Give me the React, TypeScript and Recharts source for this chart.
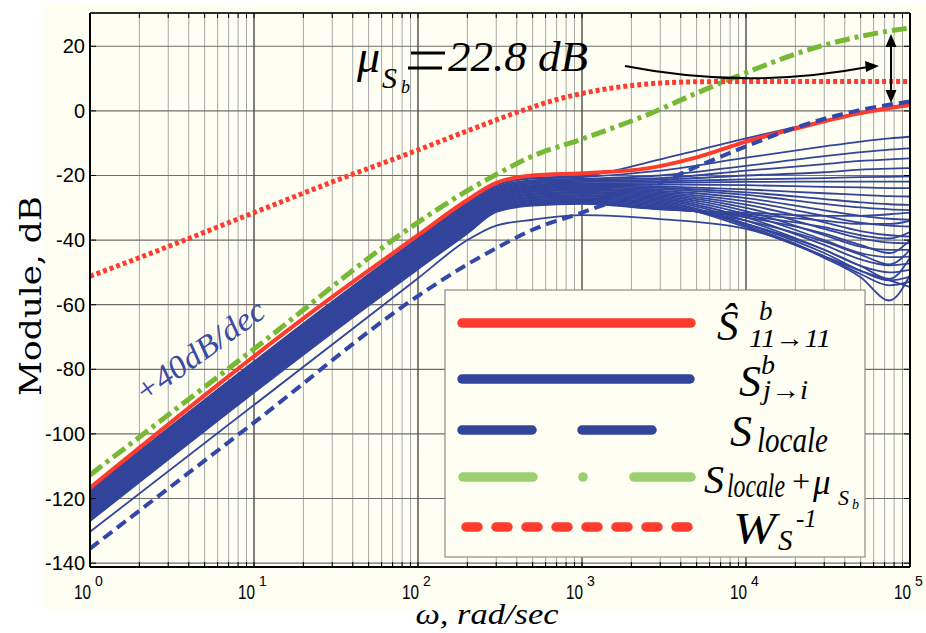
import React from "react";
import { LineChart, Line, XAxis, YAxis, CartesianGrid, ReferenceLine } from "recharts";

// ---- data (dB vs ω rad/sec) ----
const familyOmega = [1, 100, 200, 300, 500, 1000, 3000, 10000, 30000, 50000, 75000, 100000];

// S^b_{j->i} curves, one row per curve, values at familyOmega
const familyDb: number[][] = [
  [-117.4, -39.4, -28.4, -22.7, -20.7, -20.2, -15.0, -8.5, -3.0, -0.5, 1.2, 2.2],
  [-117.7, -39.7, -28.7, -23.0, -21.0, -20.5, -18.5, -14.5, -11.0, -9.5, -8.5, -8.0],
  [-118.0, -40.0, -29.0, -23.5, -21.5, -21.0, -20.0, -17.0, -14.0, -12.8, -12.0, -11.6],
  [-118.4, -40.4, -29.4, -23.8, -21.8, -21.3, -20.8, -18.5, -16.5, -15.5, -15.0, -14.7],
  [-118.8, -40.8, -29.8, -24.2, -22.2, -21.7, -21.3, -20.0, -19.0, -18.2, -17.9, -17.7],
  [-119.2, -41.2, -30.2, -24.5, -22.5, -22.0, -21.8, -21.2, -20.8, -20.5, -20.4, -20.3],
  [-119.5, -41.5, -30.5, -24.9, -22.9, -22.4, -22.3, -22.0, -21.9, -21.9, -21.9, -21.9],
  [-119.9, -41.9, -30.9, -25.2, -23.2, -22.7, -22.8, -23.0, -23.5, -23.7, -23.9, -23.9],
  [-120.2, -42.2, -31.2, -25.5, -23.5, -23.0, -23.4, -24.3, -25.5, -26.0, -26.4, -26.5],
  [-120.6, -42.6, -31.6, -25.8, -23.8, -23.3, -23.8, -25.2, -27.3, -28.3, -28.9, -29.1],
  [-120.9, -42.9, -31.9, -26.1, -24.1, -23.6, -24.3, -26.0, -28.8, -29.9, -30.5, -30.7],
  [-121.3, -43.3, -32.3, -26.5, -24.5, -24.0, -24.8, -27.0, -30.8, -32.5, -33.4, -33.7],
  [-121.6, -43.6, -32.6, -26.8, -24.8, -24.3, -25.2, -28.0, -32.5, -34.6, -35.5, -35.8],
  [-122.0, -44.0, -33.0, -27.1, -25.1, -24.6, -25.6, -29.0, -34.5, -37.2, -38.5, -38.9],
  [-122.3, -44.3, -33.3, -27.5, -25.5, -25.0, -26.0, -30.0, -36.5, -39.5, -40.8, -41.0],
  [-122.7, -44.7, -33.7, -27.8, -25.8, -25.3, -26.4, -31.0, -38.5, -42.0, -43.0, -43.0],
  [-123.0, -45.0, -34.0, -28.1, -26.1, -25.6, -26.8, -32.0, -40.0, -44.0, -45.3, -45.1],
  [-123.4, -45.4, -34.4, -28.5, -26.5, -26.0, -27.2, -33.0, -41.5, -46.0, -47.8, -47.2],
  [-123.7, -45.7, -34.7, -28.8, -26.8, -26.3, -27.6, -34.0, -43.0, -48.0, -50.0, -49.2],
  [-124.1, -46.1, -35.1, -29.1, -27.1, -26.6, -28.0, -35.0, -44.0, -49.5, -52.5, -51.3],
  [-124.4, -46.4, -35.4, -29.5, -27.5, -27.0, -28.4, -35.5, -45.0, -50.5, -54.0, -52.8],
  [-124.8, -46.8, -35.8, -29.8, -27.8, -27.3, -28.8, -36.0, -45.5, -51.5, -58.7, -50.8],
  [-125.1, -47.1, -36.1, -30.1, -28.1, -27.6, -29.2, -35.0, -43.0, -48.0, -52.0, -45.5],
  [-125.5, -47.5, -36.5, -30.4, -28.4, -27.9, -29.6, -34.0, -40.5, -44.5, -47.5, -43.0],
  [-125.8, -47.8, -36.8, -30.7, -28.7, -28.2, -30.0, -33.0, -38.0, -41.5, -44.0, -40.0],
  [-126.2, -48.2, -37.2, -30.9, -28.9, -28.4, -30.2, -32.5, -36.0, -38.5, -39.5, -37.5],
  [-126.6, -48.6, -37.6, -31.1, -29.1, -28.6, -30.4, -32.0, -34.0, -35.0, -35.0, -34.0],
  [-127.0, -49.0, -38.0, -31.3, -29.3, -28.8, -30.5, -31.5, -32.5, -32.5, -32.0, -31.5],
  [-130.3, -51.8, -40.0, -35.5, -33.7, -32.3, -33.5, -36.5, -45.0, -49.5, -52.5, -54.5],
];

// Ŝ^b_{11->11}
const shatOmega = [1, 30, 100, 200, 300, 500, 1000, 2500, 5000, 10000, 20000, 50000, 100000];
const shatDb = [-116.7, -57.6, -38.5, -27.6, -22.3, -20.0, -19.3, -17.8, -14.4, -9.5, -5.5, -0.7, 1.8];

// S_locale and S_locale + μ
const localeOmega = [1, 10, 100, 200, 300, 500, 1000, 2500, 5000, 10000, 20000, 50000, 100000];
const localeDb = [-135.5, -96.5, -57.3, -47.5, -42.5, -36.8, -31.5, -24.0, -17.3, -11.0, -5.2, 0.3, 2.9];
const localeMuDb = [-112.7, -73.7, -34.5, -24.7, -19.7, -14.0, -8.7, -1.2, 5.5, 11.8, 17.6, 23.1, 25.7];

// W_S^-1
const wsOmega = [1, 3, 10, 30, 100, 200, 400, 700, 1300, 2600, 5000, 10000, 100000];
const wsDb = [-51.2, -42.0, -31.5, -22.0, -12.1, -6.2, -0.5, 3.5, 6.5, 8.4, 9.0, 9.1, 9.1];

const decades = [1, 10, 100, 1000, 10000, 100000];
const decadeLabels = ["0", "1", "2", "3", "4", "5"];
const yTicks = [-140, -120, -100, -80, -60, -40, -20, 0, 20];

const xTicks: number[] = [];
decades.forEach((d, i) => {
  if (i === decades.length - 1) xTicks.push(d);
  else for (let m = 1; m <= 9; m++) xTicks.push(d * m);
});

const allOmega = Array.from(new Set([...familyOmega, ...shatOmega, ...localeOmega, ...wsOmega])).sort((a, b) => a - b);
const rows = allOmega.map((w) => {
  const r: Record<string, number | null> = { w };
  const fi = familyOmega.indexOf(w);
  familyDb.forEach((c, i) => {
    r[`f${i}`] = fi >= 0 ? c[fi] : null;
  });
  const si = shatOmega.indexOf(w);
  r.shat = si >= 0 ? shatDb[si] : null;
  const li = localeOmega.indexOf(w);
  r.loc = li >= 0 ? localeDb[li] : null;
  r.locMu = li >= 0 ? localeMuDb[li] : null;
  const wi = wsOmega.indexOf(w);
  r.ws = wi >= 0 ? wsDb[wi] : null;
  return r;
});

const RED = "#ff3b2e";
const BLUE = "#33449b";
const GREEN = "#77b934";
const GREEN_LIGHT = "#9ccf70";
const CREAM = "#fefef3";
const SERIF = "'Liberation Serif', serif";
const SANS = "'Liberation Sans', Arial, sans-serif";

const BottomTick = (props: any) => {
  const { x, y, payload } = props;
  const k = decades.indexOf(payload.value);
  return (
    <g>
      <line x1={x} x2={x} y1={y} y2={y - 5} stroke="#000" strokeWidth={1} />
      {k >= 0 && (
        <text fontFamily={SANS} fill="#000">
          <tspan x={x - 16} y={y + 32} fontSize={21} textLength={17} lengthAdjust="spacingAndGlyphs">10</tspan>
          <tspan x={x + 5} y={y + 19} fontSize={14}>{decadeLabels[k]}</tspan>
        </text>
      )}
    </g>
  );
};

const TopTick = (props: any) => {
  const { x, y } = props;
  return <line x1={x} x2={x} y1={y} y2={y + 5} stroke="#000" strokeWidth={1} />;
};

const LeftTick = (props: any) => {
  const { x, y, payload } = props;
  return (
    <g>
      <line x1={x} x2={x + 6} y1={y} y2={y} stroke="#000" strokeWidth={1} />
      <text x={x - 5} y={y + 7} textAnchor="end" fontFamily={SANS} fontSize={20} fill="#000">
        {payload.value}
      </text>
    </g>
  );
};

const RightTick = (props: any) => {
  const { x, y } = props;
  return <line x1={x} x2={x - 6} y1={y} y2={y} stroke="#000" strokeWidth={1} />;
};

export default function App() {
  return (
    <div style={{ position: "absolute", left: 0, top: 0, width: 926, height: 633, background: "#fff", overflow: "hidden" }}>
      <div style={{ position: "absolute", left: 43, top: 4, width: 883, height: 606, background: CREAM }} />
      <div style={{ position: "absolute", left: 0, top: 0 }}>
        <LineChart width={926} height={633} data={rows} margin={{ top: 12, right: 15, bottom: 26, left: 30 }}>
          <CartesianGrid horizontal={false} stroke="#a6a6a6" strokeWidth={1} />
          <CartesianGrid vertical={false} stroke="#6e6e6e" strokeWidth={1.2} />
          {decades.slice(1, -1).map((d) => (
            <ReferenceLine key={d} x={d} stroke="#474747" strokeWidth={1.2} ifOverflow="hidden" />
          ))}
          <XAxis
            dataKey="w"
            type="number"
            scale="log"
            domain={[1, 100000]}
            ticks={xTicks}
            interval={0}
            allowDataOverflow
            height={40}
            tickSize={0}
            tickMargin={0}
            tickLine={false}
            axisLine={{ stroke: "#000", strokeWidth: 2 }}
            tick={<BottomTick />}
          />
          <XAxis
            xAxisId="top"
            orientation="top"
            dataKey="w"
            type="number"
            scale="log"
            domain={[1, 100000]}
            ticks={xTicks}
            interval={0}
            allowDataOverflow
            height={1}
            tickSize={0}
            tickMargin={0}
            tickLine={false}
            axisLine={{ stroke: "#000", strokeWidth: 1.5 }}
            tick={<TopTick />}
          />
          <YAxis
            type="number"
            domain={[-141.2, 30.3]}
            ticks={yTicks}
            interval={0}
            allowDataOverflow
            width={60}
            tickSize={0}
            tickMargin={0}
            tickLine={false}
            axisLine={{ stroke: "#000", strokeWidth: 2 }}
            tick={<LeftTick />}
          />
          <YAxis
            yAxisId="right"
            orientation="right"
            type="number"
            domain={[-141.2, 30.3]}
            ticks={yTicks}
            interval={0}
            allowDataOverflow
            width={1}
            tickSize={0}
            tickMargin={0}
            tickLine={false}
            axisLine={{ stroke: "#000", strokeWidth: 2 }}
            tick={<RightTick />}
          />
          {familyDb.map((_, i) => (
            <Line
              key={i}
              dataKey={`f${i}`}
              type="monotone"
              stroke={BLUE}
              strokeWidth={1.8}
              dot={false}
              connectNulls
              isAnimationActive={false}
            />
          ))}
          <Line dataKey="shat" type="monotone" stroke={RED} strokeWidth={4} dot={false} connectNulls isAnimationActive={false} />
          <Line dataKey="loc" type="monotone" stroke="#3346aa" strokeWidth={4} strokeDasharray="11 6" dot={false} connectNulls isAnimationActive={false} />
          <Line dataKey="locMu" type="monotone" stroke={GREEN} strokeWidth={5} strokeDasharray="15 5 4 5" dot={false} connectNulls isAnimationActive={false} />
          <Line dataKey="ws" type="monotone" stroke={RED} strokeWidth={5} strokeDasharray="4 3" dot={false} connectNulls isAnimationActive={false} />
        </LineChart>
      </div>
      <svg width={926} height={633} style={{ position: "absolute", left: 0, top: 0, pointerEvents: "none" }}>
        {/* axis titles */}
        <text transform="translate(41,296) rotate(-90)" textAnchor="middle" fontFamily="'DejaVu Serif', serif" fontSize={29} textLength={200} lengthAdjust="spacingAndGlyphs" fill="#000">
          Module, dB
        </text>
        <text x={487} y={624} textAnchor="middle" fontFamily={SERIF} fontStyle="italic" fontSize={29} textLength={143} lengthAdjust="spacingAndGlyphs" fill="#000">
          ω, rad/sec
        </text>

        {/* slope note */}
        <text transform="translate(144,404) rotate(-35.6)" fontFamily={SERIF} fontStyle="italic" fontSize={32} textLength={152} lengthAdjust="spacingAndGlyphs" fill="#3b4aa3">
          +40dB/dec
        </text>

        {/* μ annotation */}
        <text fontFamily={SERIF} fontStyle="italic" fill="#000">
          <tspan x={357} y={72} fontSize={46}>μ</tspan>
          <tspan x={382} y={88} fontSize={30}>S</tspan>
          <tspan x={401} y={93} fontSize={18}>b</tspan>
          <tspan x={448} y={71} fontSize={42} textLength={140} lengthAdjust="spacingAndGlyphs">22.8 dB</tspan>
        </text>
        <line x1={411} x2={445} y1={53} y2={53} stroke="#000" strokeWidth={3} />
        <line x1={408} x2={442} y1={68} y2={68} stroke="#000" strokeWidth={3} />
        <path d="M 625 66 Q 747 90 868 67" fill="none" stroke="#000" strokeWidth={2} />
        <polygon points="879,66 865,61 866,72" fill="#000" />
        <line x1={891} x2={891} y1={42} y2={96} stroke="#000" strokeWidth={2} />
        <polygon points="891,34 885.5,47 896.5,47" fill="#000" />
        <polygon points="891,103 885.5,90 896.5,90" fill="#000" />

        {/* legend */}
        <rect x={445} y={290} width={420} height={267} fill={CREAM} stroke="#8c8c8c" strokeWidth={1.2} />
        <line x1={462} x2={691} y1={323} y2={323} stroke={RED} strokeWidth={9.5} strokeLinecap="round" />
        <line x1={462} x2={690} y1={379} y2={379} stroke={BLUE} strokeWidth={9.5} strokeLinecap="round" />
        <line x1={462} x2={532} y1={430} y2={430} stroke={BLUE} strokeWidth={9.5} strokeLinecap="round" />
        <line x1={582} x2={652} y1={430} y2={430} stroke={BLUE} strokeWidth={9.5} strokeLinecap="round" />
        <line x1={463} x2={533} y1={477} y2={477} stroke={GREEN_LIGHT} strokeWidth={9.5} strokeLinecap="round" />
        <circle cx={583} cy={477} r={4.8} fill={GREEN_LIGHT} />
        <line x1={634} x2={691} y1={477} y2={477} stroke={GREEN_LIGHT} strokeWidth={9.5} strokeLinecap="round" />
        <line x1={466} x2={688} y1={527} y2={527} stroke={RED} strokeWidth={9.5} strokeLinecap="round" strokeDasharray="12 18" />

        <g fontFamily={SERIF} fontStyle="italic" fill="#000">
          <text>
            <tspan x={717} y={340} fontSize={43}>Ŝ</tspan>
            <tspan x={759} y={320} fontSize={27}>b</tspan>
            <tspan x={749} y={347} fontSize={26} textLength={82} lengthAdjust="spacingAndGlyphs">11→11</tspan>
          </text>
          <text>
            <tspan x={739} y={396} fontSize={44}>S</tspan>
            <tspan x={761} y={374} fontSize={28}>b</tspan>
            <tspan x={763} y={399} fontSize={27} textLength={45} lengthAdjust="spacingAndGlyphs">j→i</tspan>
          </text>
          <text>
            <tspan x={730} y={446} fontSize={44}>S</tspan>
            <tspan x={757} y={452} fontSize={35} textLength={71} lengthAdjust="spacingAndGlyphs">locale</tspan>
          </text>
          <text>
            <tspan x={704} y={493} fontSize={40}>S</tspan>
            <tspan x={727} y={497} fontSize={33} textLength={58} lengthAdjust="spacingAndGlyphs">locale</tspan>
            <tspan x={790} y={492} fontSize={32}>+</tspan>
            <tspan x={813} y={494} fontSize={35}>μ</tspan>
            <tspan x={838} y={505} fontSize={22}>S</tspan>
            <tspan x={852} y={509} fontSize={14}>b</tspan>
          </text>
          <text>
            <tspan x={733} y={543} fontSize={44} textLength={43} lengthAdjust="spacingAndGlyphs">W</tspan>
            <tspan x={778} y={550} fontSize={29}>S</tspan>
            <tspan x={796} y={527} fontSize={25}>-1</tspan>
          </text>
        </g>
      </svg>
    </div>
  );
}
